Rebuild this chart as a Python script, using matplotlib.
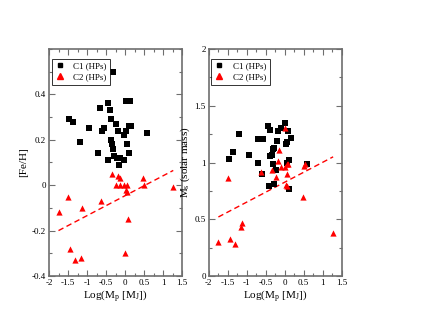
import matplotlib
matplotlib.use("Agg")
import matplotlib.pyplot as plt
from matplotlib.ticker import MultipleLocator, FixedLocator
from matplotlib.lines import Line2D

plt.rcParams['font.family'] = ['Liberation Serif', 'DejaVu Serif']
plt.rcParams['mathtext.fontset'] = 'custom'
plt.rcParams['mathtext.rm'] = 'Liberation Serif'
plt.rcParams['mathtext.it'] = 'Liberation Serif:italic'
plt.rcParams['axes.unicode_minus'] = False

# Left panel: [Fe/H] vs log planet mass
c1_feh_x = [-0.31, 0.02, 0.12, -0.46, -0.67, -0.40, -1.48, -1.36, -0.38, -0.24,
            -0.96, -0.55, -0.60, 0.11, 0.17, 0.03, -0.18, -0.02, 0.58, -1.18,
            -0.38, -0.35, 0.05, -0.32, -0.72, 0.11, -0.28, -0.44, -0.22, -0.12,
            -0.03, -0.16]
c1_feh_y = [0.50, 0.37, 0.37, 0.36, 0.34, 0.33, 0.29, 0.28, 0.29, 0.27,
            0.25, 0.25, 0.24, 0.26, 0.26, 0.24, 0.24, 0.22, 0.23, 0.19,
            0.20, 0.18, 0.18, 0.16, 0.14, 0.14, 0.13, 0.11, 0.12, 0.12,
            0.11, 0.09]
c2_feh_x = [-0.35, -0.18, -0.12, 0.48, -0.23, -0.13, -0.02, 0.06, 0.51, 1.27,
            0.02, 0.05, -1.49, -0.64, -1.12, -1.75, 0.07, -1.44, 0.00, -1.15, -1.32]
c2_feh_y = [0.05, 0.04, 0.03, 0.03, 0.00, 0.00, 0.00, 0.00, 0.00, -0.01,
            -0.02, -0.03, -0.05, -0.07, -0.10, -0.12, -0.15, -0.28, -0.30, -0.32, -0.33]
fit_feh_x = [-1.75, 1.27]
fit_feh_y = [-0.20, 0.065]

# Right panel: stellar mass vs log planet mass
c1_ms_x = [0.01, -0.43, -0.39, -0.16, -0.09, 0.09, 0.16, -0.69, -0.56, -1.19,
           -0.21, 0.03, 0.06, -0.31, -0.28, -0.37, -0.34, -1.36, -1.47, -0.93,
           -0.71, 0.13, 0.58, -0.31, 0.07, -0.59, -0.22, -0.41, -0.28, 0.13]
c1_ms_y = [1.35, 1.32, 1.29, 1.28, 1.30, 1.28, 1.22, 1.21, 1.21, 1.25,
           1.19, 1.16, 1.18, 1.12, 1.13, 1.06, 1.07, 1.09, 1.03, 1.07,
           1.00, 1.02, 0.99, 0.99, 1.00, 0.90, 0.93, 0.79, 0.81, 0.77]
c2_ms_x = [0.00, -0.14, -0.16, 0.07, 0.54, 0.52, -0.10, 0.01, 0.08, -0.34,
           -0.22, 0.06, -0.63, 0.04, 0.07, 0.49, 1.28, -1.48, -1.11, -1.14,
           -1.74, -1.43, -1.30]
c2_ms_y = [1.30, 1.11, 1.01, 0.99, 0.99, 0.97, 0.96, 0.96, 0.99, 0.93,
           0.87, 0.90, 0.92, 0.80, 0.79, 0.70, 0.38, 0.86, 0.47, 0.43,
           0.30, 0.33, 0.28]
fit_ms_x = [-1.74, 1.28]
fit_ms_y = [0.52, 1.05]

xticks = [-2, -1.5, -1, -0.5, 0, 0.5, 1, 1.5]
xtick_labels = ['-2', '-1.5', '-1', '-0.5', '0', '0.5', '1', '1.5']
feh_ticks = [-0.4, -0.2, 0, 0.2, 0.4]
feh_labels = ['-0.4', '-0.2', '0', '0.2', '0.4']
ms_ticks = [0, 0.5, 1, 1.5, 2]
ms_labels = ['0', '0.5', '1', '1.5', '2']
legend_labels = ['C1 (HPs)', 'C2 (HPs)']

fig = plt.figure(figsize=(4.30, 3.32), dpi=100)
ax1 = fig.add_axes([49/430, 56/332, 133/430, 227/332])
ax2 = fig.add_axes([208.5/430, 56/332, 133/430, 227/332])

frame_col = '#6e6e6e'

def style(ax, ylim, yticks, ylabels, yminor):
    ax.set_xlim(-2, 1.5)
    ax.set_ylim(*ylim)
    ax.xaxis.set_major_locator(FixedLocator(xticks))
    ax.set_xticklabels(xtick_labels)
    ax.xaxis.set_minor_locator(MultipleLocator(0.25))
    ax.yaxis.set_major_locator(FixedLocator(yticks))
    ax.set_yticklabels(ylabels)
    ax.yaxis.set_minor_locator(MultipleLocator(yminor))
    ax.tick_params(which='both', direction='in', top=True, right=True,
                   labelsize=6.5, color=frame_col, pad=2)
    ax.tick_params(which='major', length=4, width=0.8)
    ax.tick_params(which='minor', length=2.5, width=0.8)
    for s in ax.spines.values():
        s.set_color(frame_col)
        s.set_linewidth(1.2)
    ax.set_xlabel('Log(M$_\\mathrm{p}$ [M$_\\mathrm{J}$])', fontsize=8, labelpad=1)
    h1 = Line2D([], [], marker='s', color='black', linestyle='None', markersize=3.5)
    h2 = Line2D([], [], marker='^', color='red', linestyle='None', markersize=4)
    leg = ax.legend([h1, h2], legend_labels, loc='upper left',
                    bbox_to_anchor=(0.0, 0.97), fontsize=6.5, frameon=True,
                    fancybox=False, handlelength=1.0, handletextpad=1.0,
                    borderpad=0.4, labelspacing=0.25, borderaxespad=0.3)
    leg.get_frame().set_edgecolor('black')
    leg.get_frame().set_linewidth(0.7)

ax1.plot(fit_feh_x, fit_feh_y, color='red', linestyle=(0, (4, 2.5)), linewidth=1)
ax1.scatter(c2_feh_x, c2_feh_y, marker='^', s=20, color='red', linewidths=0, zorder=3)
ax1.scatter(c1_feh_x, c1_feh_y, marker='s', s=14, color='black', linewidths=0, zorder=4)
style(ax1, (-0.4, 0.6), feh_ticks, feh_labels, 0.1)
ax1.set_ylabel('[Fe/H]', fontsize=8, labelpad=3)

ax2.plot(fit_ms_x, fit_ms_y, color='red', linestyle=(0, (4, 2.5)), linewidth=1)
ax2.scatter(c1_ms_x, c1_ms_y, marker='s', s=14, color='black', linewidths=0, zorder=3)
ax2.scatter(c2_ms_x, c2_ms_y, marker='^', s=20, color='red', linewidths=0, zorder=4)
style(ax2, (0, 2), ms_ticks, ms_labels, 0.25)
ax2.set_ylabel('M$_\\mathrm{s}$ (solar mass)', fontsize=8, labelpad=2)

fig.savefig('out.png', dpi=100)
